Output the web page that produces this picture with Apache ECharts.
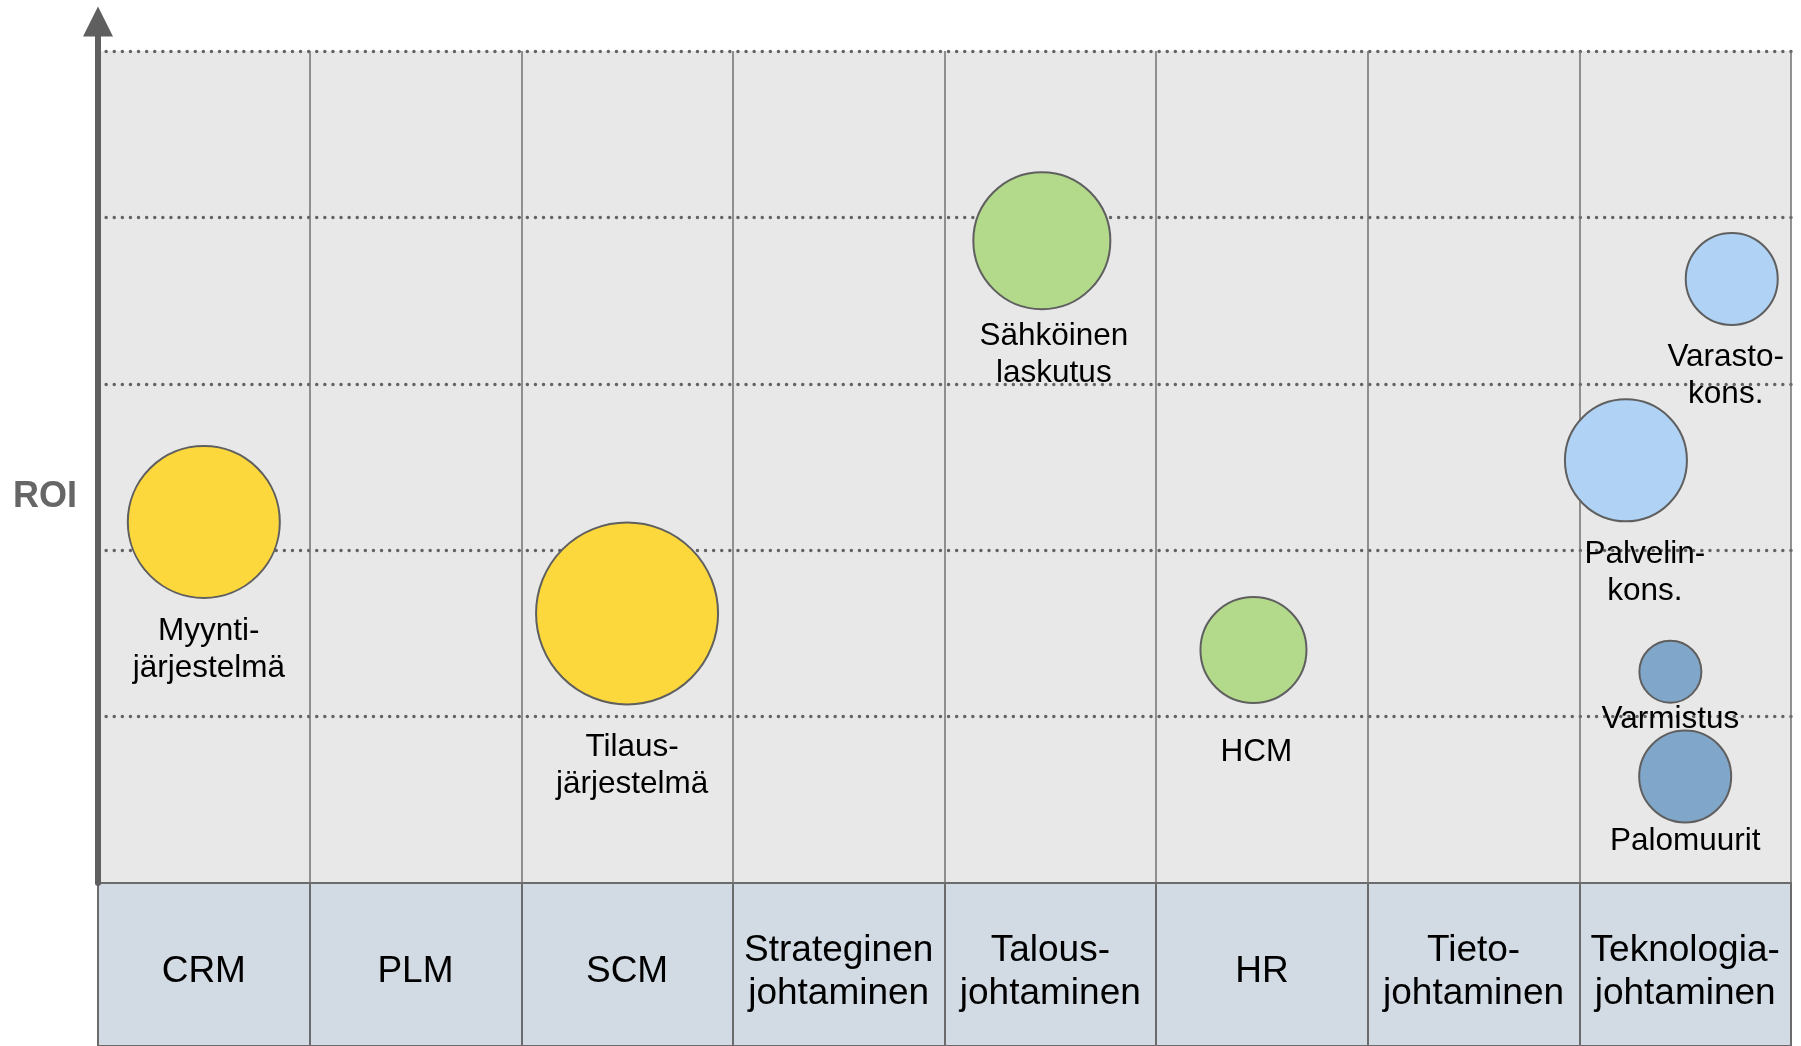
<!DOCTYPE html>
<html>
<head>
<meta charset="utf-8">
<script src="https://cdn.jsdelivr.net/npm/echarts@6/dist/echarts.min.js"></script>
<style>
  html,body{margin:0;padding:0;background:#fff;}
  #echart{width:1801px;height:1046px;}
</style>
</head>
<body>
<div id="echart"></div>
<script>
// kategoriat (alapalkki)
const categories = ['CRM', 'PLM', 'SCM', 'Strateginen\njohtaminen', 'Talous-\njohtaminen', 'HR', 'Tieto-\njohtaminen', 'Teknologia-\njohtaminen']

// kuplat
const names = ['Myynti-\njärjestelmä', 'Tilaus-\njärjestelmä', 'Sähköinen\nlaskutus', 'HCM', 'Varasto-\nkons.', 'Palvelin-\nkons.', 'Varmistus', 'Palomuurit']
const xPos = [0.5, 2.5, 4.46, 5.46, 7.72, 7.22, 7.43, 7.5]
const roi = [2.17, 1.62, 3.86, 1.40, 3.63, 2.54, 1.27, 0.64]
const bubbleSize = [152, 182, 137, 106, 92, 122, 62, 92]
const group = [0, 0, 1, 1, 2, 2, 3, 3]

// tyylit
const groupColors = ['#fdd83c', '#b3da8b', '#b0d3f5', '#80a7c9']
const labelShift = [[5, 14], [5, 23], [12, 8], [3, 30], [-6, 13], [19, 13], [0, -3], [0, -1]]

const font = 'Liberation Sans, Arial, sans-serif'
const chartDom = document.getElementById('echart');
const myChart = echarts.init(chartDom);

const seriesData = names.map((name, i) => ({
    name: name,
    value: [xPos[i], roi[i], bubbleSize[i]],
    itemStyle: { color: groupColors[group[i]] },
    label: { offset: labelShift[i] }
}))

const option = {
    animation: false,
    textStyle: { fontFamily: font },
    title: {
        text: 'ROI',
        left: 8,
        top: 474,
        textStyle: { fontFamily: font, fontSize: 36, fontWeight: 'bold', color: '#666' }
    },
    grid: [
        { left: 98, right: 10, top: 51, bottom: 163, show: true, backgroundColor: '#e8e8e8', borderWidth: 0 },
        { left: 98, right: 10, top: 883, bottom: 0, show: true, backgroundColor: '#d2dae3', borderColor: '#6b6b6b', borderWidth: 2 }
    ],
    xAxis: [
        {
            gridIndex: 0, type: 'value', min: 0, max: 8, interval: 1,
            axisLine: { show: false }, axisTick: { show: false }, axisLabel: { show: false },
            splitLine: { show: true, lineStyle: { color: '#707070', width: 1.5 } }
        },
        {
            gridIndex: 1, type: 'category', data: categories, position: 'bottom',
            axisLine: { show: false }, axisTick: { show: false },
            axisLabel: {
                interval: 0, inside: true, margin: 74, verticalAlign: 'middle',
                fontFamily: font, fontSize: 37, lineHeight: 43, color: '#000'
            },
            splitLine: { show: true, interval: 0, lineStyle: { color: '#6b6b6b', width: 2 } }
        }
    ],
    yAxis: [
        {
            gridIndex: 0, type: 'value', min: 0, max: 5, interval: 1,
            axisLine: {
                show: true,
                lineStyle: { color: '#5f5f5f', width: 6 },
                symbol: ['none', 'path://M15 0 L30 30 L18 30 L18 45 L12 45 L12 30 L0 30 Z'],
                symbolSize: [30, 45],
                symbolOffset: [0, 22]
            },
            axisTick: { show: false }, axisLabel: { show: false },
            splitLine: {
                show: true, showMinLine: false,
                lineStyle: { color: '#636363', width: 3.4, type: [0.1, 8], cap: 'round' }
            }
        },
        {
            gridIndex: 1, type: 'value', min: 0, max: 1,
            axisLine: { show: false }, axisTick: { show: false }, axisLabel: { show: false },
            splitLine: { show: false }
        }
    ],
    series: [
        {
            type: 'scatter',
            xAxisIndex: 0, yAxisIndex: 0,
            data: seriesData,
            symbolSize: (val) => val[2],
            itemStyle: { borderColor: '#5f5f5f', borderWidth: 2, opacity: 1 },
            label: {
                show: true,
                position: 'bottom',
                distance: 0,
                formatter: '{b}',
                fontFamily: font, fontSize: 31.5, lineHeight: 37, color: '#000',
                align: 'center'
            },
            emphasis: { disabled: true }
        }
    ]
};
myChart.setOption(option);
</script>
</body>
</html>
